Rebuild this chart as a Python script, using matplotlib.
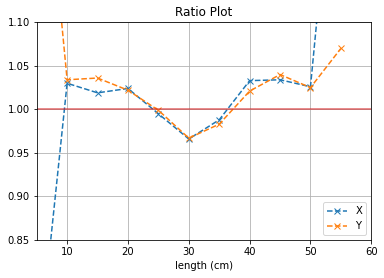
import matplotlib
matplotlib.use("Agg")
import matplotlib.pyplot as plt

# --- data
length = [5, 10, 15, 20, 25, 30, 35, 40, 45, 50, 55]
ratio_x = [0.696, 1.030, 1.019, 1.024, 0.995, 0.966, 0.988, 1.033, 1.034, 1.026, 1.39]
ratio_y = [1.40, 1.034, 1.036, 1.022, 0.999, 0.967, 0.983, 1.021, 1.040, 1.025, 1.070]

fig = plt.figure(figsize=(384 / 72, 278 / 72), dpi=72)
ax = fig.add_axes([36.7 / 384, 1 - 240 / 278, (371.3 - 36.7) / 384, (240 - 22.3) / 278])

ax.plot(length, ratio_x, "x--", label="X")
ax.plot(length, ratio_y, "x--", label="Y")
ax.axhline(1.0, color="C3", alpha=0.7, linewidth=1.5)

ax.set_xlim(5, 60)
ax.set_ylim(0.85, 1.10)
ax.set_title("Ratio Plot")
ax.set_xlabel("length (cm)")
ax.grid(True)
ax.legend(loc="lower right")

fig.savefig("out.png", dpi=72)
